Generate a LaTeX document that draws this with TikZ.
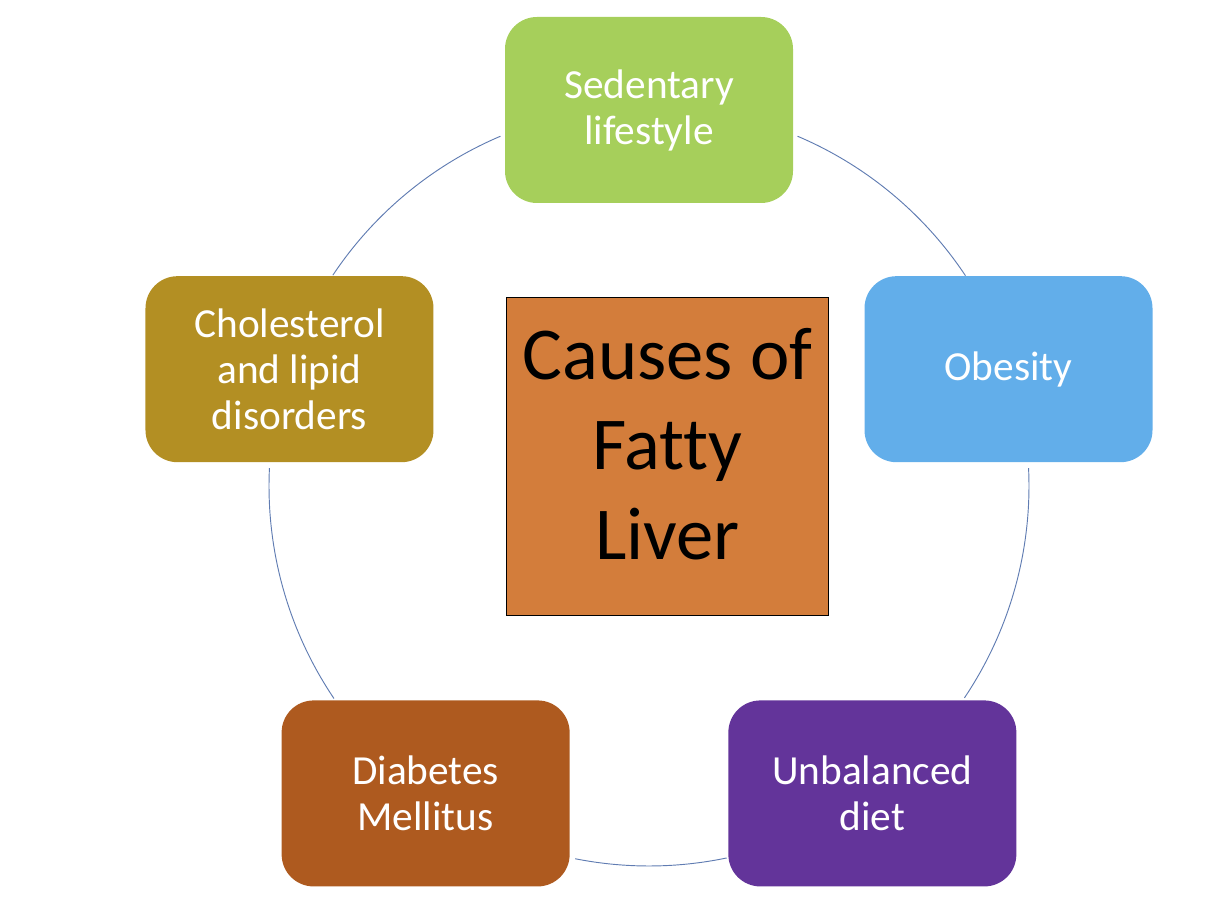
\documentclass[tikz,border=0pt]{standalone}
\usepackage{fontspec}
\setmainfont{Carlito}[Ligatures=NoCommon]
\usetikzlibrary{calc}

\definecolor{sedgreen}{RGB}{166,207,91}
\definecolor{obeblue}{RGB}{98,174,234}
\definecolor{dietpurple}{RGB}{99,52,154}
\definecolor{diabrown}{RGB}{174,90,31}
\definecolor{chololive}{RGB}{179,143,35}
\definecolor{huborange}{RGB}{211,125,59}
\definecolor{ringblue}{RGB}{96,124,178}

\begin{document}
\begin{tikzpicture}[x=0.75pt,y=0.75pt,
        cause/.style={rectangle,rounded corners=24pt,minimum width=216pt,minimum height=139.5pt,inner sep=0pt,
          align=center,text=white,font=\fontsize{31}{34.5}\selectfont},
        hub/.style={rectangle,draw=black,line width=0.6pt,fill=huborange,minimum width=242pt,minimum height=238.5pt,
          inner sep=0pt},
        hubtext/.style={align=center,text=black,inner sep=0pt,font=\fontsize{56}{67.5}\selectfont},
        ring/.style={draw=ringblue,line width=0.7pt}]

        \useasboundingbox (-649,-419) rectangle (574,486);
        \coordinate (o) at (0,0);

        % the ring
        \draw[ring] ([shift={(67:380)}]o)    arc[start angle=67,end angle=33.6,radius=380];
        \draw[ring] ([shift={(2.7:380)}]o)   arc[start angle=2.7,end angle=-33.9,radius=380];
        \draw[ring] ([shift={(-78.2:380)}]o) arc[start angle=-78.2,end angle=-101.2,radius=380];
        \draw[ring] ([shift={(214:380)}]o)   arc[start angle=214,end angle=177.3,radius=380];
        \draw[ring] ([shift={(146.3:380)}]o) arc[start angle=146.3,end angle=113,radius=380];

        \node [hub]                  (liver) at (18.5,30)  {};
        \node [hubtext]              (livertext) at ([yshift=9pt]liver.center) {Causes of\\Fatty\\Liver};
        \node [cause,fill=sedgreen]  (sed)   at (90:376)   {Sedentary\\lifestyle};
        \node [cause,fill=obeblue]   (obe)   at (18:378)   {Obesity};
        \node [cause,fill=dietpurple](diet)  at (-54:380)  {Unbalanced\\diet};
        \node [cause,fill=diabrown]  (dia)   at (-126:380) {Diabetes\\Mellitus};
        \node [cause,fill=chololive] (chol)  at (162:378)  {Cholesterol\\and lipid\\disorders};
      \end{tikzpicture}
\end{document}
